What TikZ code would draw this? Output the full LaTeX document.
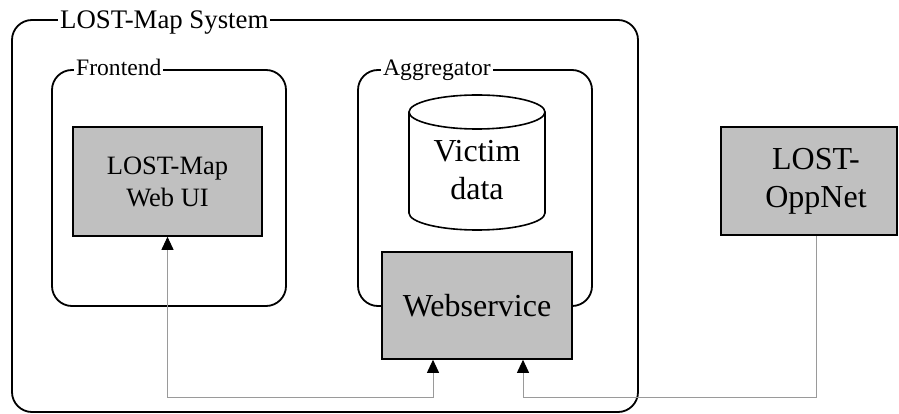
\documentclass[tikz,border=0pt]{standalone}
\usepackage{fontspec}
\setmainfont{Liberation Serif}
\usetikzlibrary{arrows.meta}

\definecolor{boxgray}{HTML}{C0C0C0}
\definecolor{linkgray}{HTML}{9A9A9A}

\tikzset{
  frame/.style={draw=black, line width=1.8pt, rounded corners=20pt,
    rectangle, inner sep=0pt},
  framelabel/.style={fill=white, inner xsep=2pt, inner ysep=1pt,
    anchor=base west},
  compbox/.style={draw=black, line width=1.6pt, fill=boxgray, rectangle,
    inner sep=0pt, align=center},
  bigtext/.style={font=\fontsize{32}{38}\selectfont, align=center},
  link/.style={draw=linkgray, line width=0.9pt},
  tip/.tip={Triangle[length=13pt, width=12pt, color=black]}
}

\begin{document}
\begin{tikzpicture}[x=1pt, y=-1pt]
  \useasboundingbox (0,0) rectangle (899,414);

  % system and subsystem frames
  \node[frame, minimum width=626pt, minimum height=392pt] (mapsys) at (325,216) {};
  \node[frame, minimum width=234pt, minimum height=236pt] (frontend) at (169,188) {};
  \node[frame, minimum width=234pt, minimum height=236pt] (aggregator) at (475,188) {};

  \node[framelabel, font=\fontsize{26.8}{30}\selectfont] (mapsyslbl) at (58,28.5) {LOST-Map System};
  \node[framelabel, font=\fontsize{23.6}{27}\selectfont] (frontendlbl) at (74,76) {Frontend};
  \node[framelabel, font=\fontsize{23.6}{27}\selectfont] (aggregatorlbl) at (381,76) {Aggregator};

  % components
  \node[compbox, minimum width=189pt, minimum height=109pt,
        font=\fontsize{26.5}{32}\selectfont] (webui) at (167.5,181.5) {LOST-Map\\Web UI};
  \node[compbox, minimum width=190pt, minimum height=107pt,
        font=\fontsize{32}{38}\selectfont] (websvc) at (477,305.5) {Webservice};
  \node[compbox, minimum width=176pt, minimum height=108pt] (oppnet) at (809,181) {};
  \node[bigtext] (oppnetlbl) at (816,181) {LOST-\\OppNet};

  % victim data store
  \draw[fill=white, line width=1.6pt]
    (409,112) -- (409,213)
    arc[start angle=180, end angle=360, x radius=68pt, y radius=17pt]
    -- (545,112);
  \draw[fill=white, line width=1.6pt] (477,112) ellipse [x radius=68pt, y radius=17pt];
  \node[bigtext] (victim) at (477,170) {Victim\\data};

  % connectors
  \coordinate (bus) at (0,397);
  \coordinate (ws1) at ([xshift=-44pt]websvc.south);
  \coordinate (ws2) at ([xshift=46pt]websvc.south);
  \coordinate (opp) at (oppnet.south -| oppnetlbl);

  \draw[link, tip-tip] (ws1) -- (ws1 |- bus) -| (webui.south);
  \draw[link, -tip] (opp) |- (ws2 |- bus) -- (ws2);
\end{tikzpicture}
\end{document}
